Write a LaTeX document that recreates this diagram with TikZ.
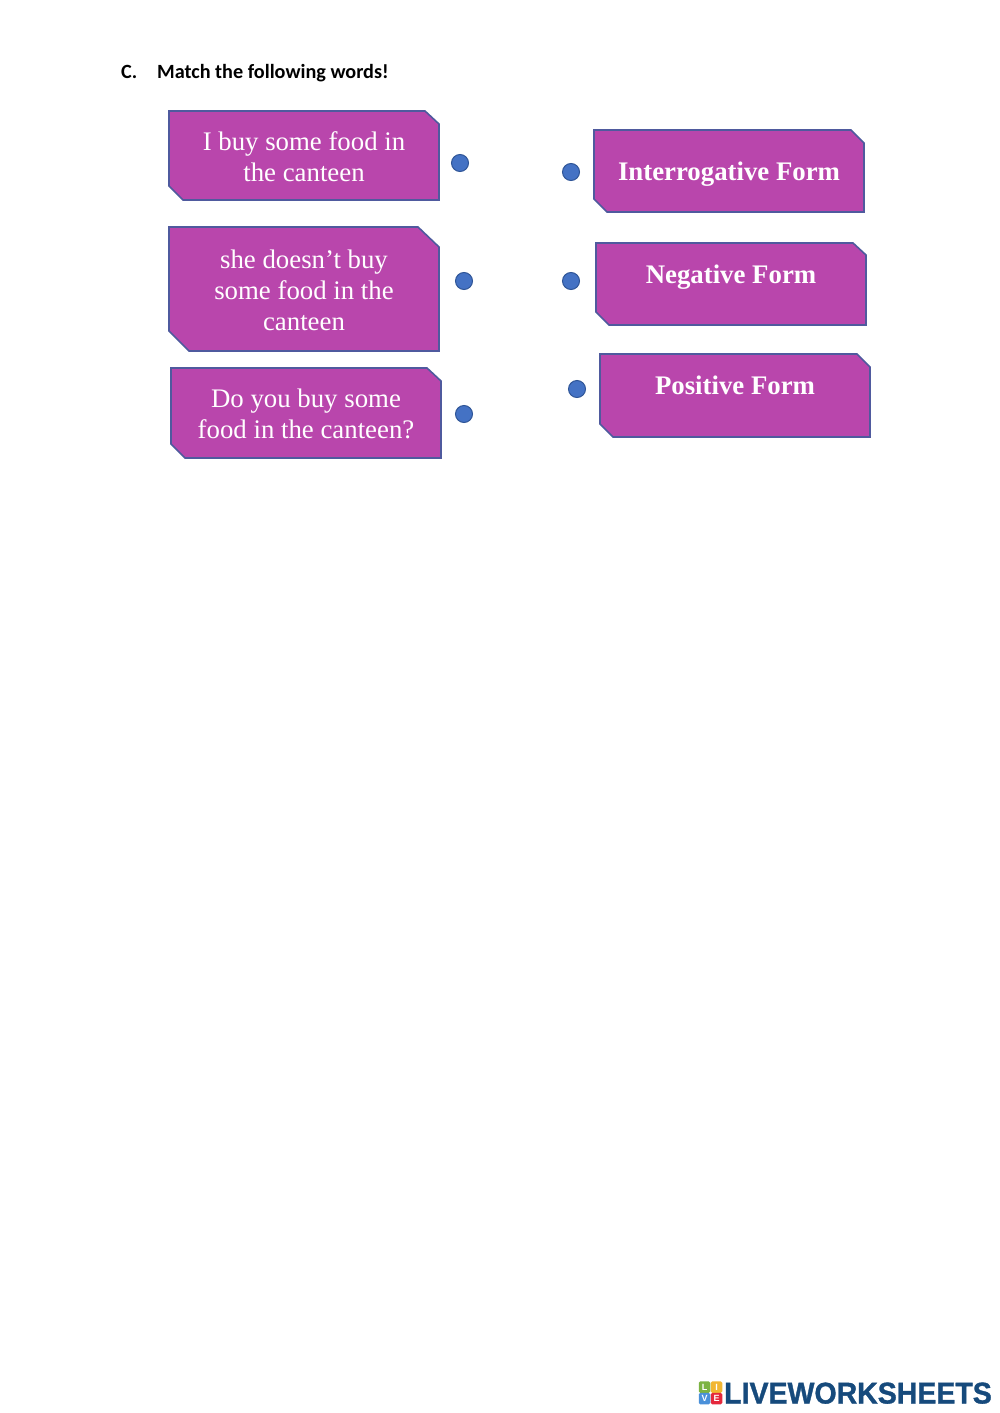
\documentclass[tikz,border=0pt]{standalone}
\usepackage{fontspec}
\usepackage{graphicx}
\setmainfont{Liberation Serif}
\newfontfamily\headfont{Carlito}
\newfontfamily\logofont[FakeBold=1.2]{Liberation Sans}
\newfontfamily\tilefont{Liberation Sans}
\definecolor{cardfill}{HTML}{B946AC}
\definecolor{cardline}{HTML}{4F5A9E}
\definecolor{dotfill}{HTML}{4472C4}
\definecolor{dotline}{HTML}{2F5597}
\definecolor{logoblue}{HTML}{164A7C}
\definecolor{lg}{HTML}{7CB342}
\definecolor{ly}{HTML}{F2B632}
\definecolor{lb}{HTML}{4A90D9}
\definecolor{lr}{HTML}{E5283C}
\tikzset{
  x=1pt,y=-1pt,
  card/.style={draw=cardline,fill=cardfill,line width=1.6pt,line join=miter},
  cardtext/.style={text=white,align=center,font=\fontsize{26.8}{31}\selectfont,inner sep=0pt},
  formtext/.style={text=white,align=center,font=\fontsize{26.8}{31}\selectfont\bfseries,inner sep=0pt},
  dot/.style={circle,draw=dotline,fill=dotfill,line width=1pt,minimum size=17pt,inner sep=0pt},
  head/.style={anchor=base west,inner sep=0pt,font=\headfont\fontsize{20.2}{24}\selectfont\bfseries},
  logotile/.style={minimum size=11.5pt,inner sep=0pt,rounded corners=1.5pt,text=white,font=\tilefont\fontsize{9}{9}\selectfont\bfseries}
}
\begin{document}
\begin{tikzpicture}
\useasboundingbox[fill=white] (0,0) rectangle (1000,1413);
\node[head] (hc) at (121,78) {C.};
\node[head] (hm) at (157,78) {Match the following words!};
% left cards
\draw[card] (169,111) -- (425,111) -- (439,124) -- (439,200) -- (183,200) -- (169,186) -- cycle;
\node[cardtext] (a1) at (304,157) {I buy some food in\\the canteen};
\draw[card] (169,227) -- (418,227) -- (439,247) -- (439,351) -- (189,351) -- (169,331) -- cycle;
\node[cardtext] (a2) at (304,290.5) {she doesn’t buy\\some food in the\\canteen};
\draw[card] (171,368) -- (427,368) -- (441,381) -- (441,458) -- (185,458) -- (171,444) -- cycle;
\node[cardtext] (a3) at (306,414) {Do you buy some\\food in the canteen?};
% right cards
\draw[card] (594,130) -- (851,130) -- (864,143) -- (864,212) -- (607,212) -- (594,199) -- cycle;
\node[formtext] (b1) at (729,174.5) {Interrogative Form};
\draw[card] (596,243) -- (853,243) -- (866,255) -- (866,325) -- (609,325) -- (596,312) -- cycle;
\node[formtext] (b2) at (731,277) {Negative Form};
\draw[card] (600,354) -- (857,354) -- (870,367) -- (870,437) -- (613,437) -- (600,424) -- cycle;
\node[formtext] (b3) at (735,385.5) {Positive Form};
% dots
\node[dot] (d1) at (460,163) {};
\node[dot] (d2) at (464,281) {};
\node[dot] (d3) at (464,414) {};
\node[dot] (e1) at (571,172) {};
\node[dot] (e2) at (571,281) {};
\node[dot] (e3) at (577,389) {};
% logo
\node[logotile,fill=lg] (l1) at (704.5,1387) {L};
\node[logotile,fill=ly] (l2) at (716.5,1387) {I};
\node[logotile,fill=lb] (l3) at (704.5,1398.5) {V};
\node[logotile,fill=lr] (l4) at (716.5,1398.5) {E};
\node[anchor=base west,inner sep=0pt,text=logoblue,font=\logofont\fontsize{30}{31}\selectfont\bfseries] (lw) at (724,1403.5) {\scalebox{0.95}[1]{LIVEWORKSHEETS}};
\end{tikzpicture}
\end{document}
